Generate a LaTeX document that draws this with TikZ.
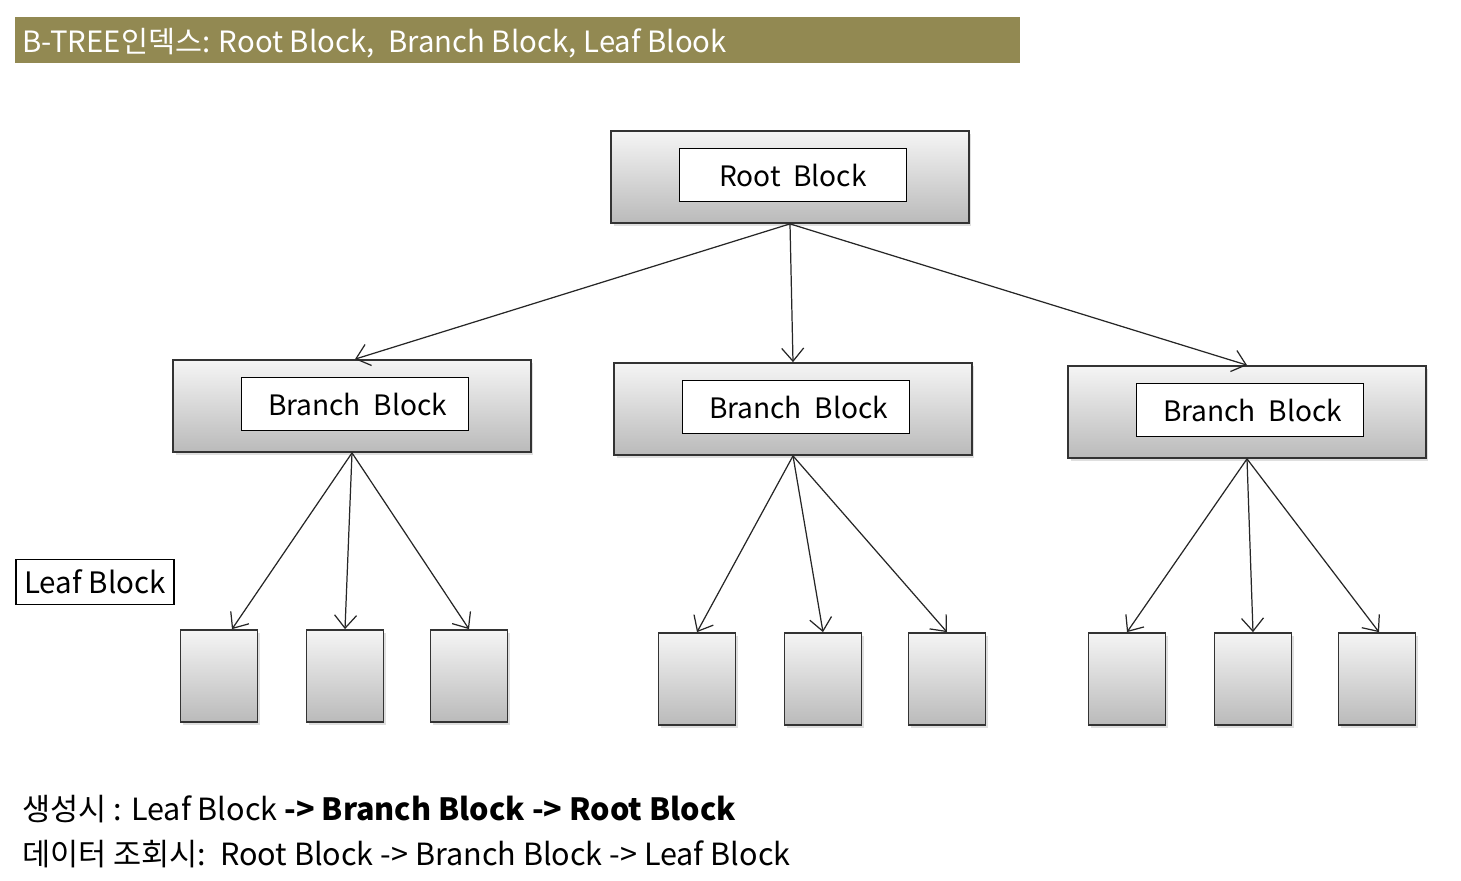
\documentclass[tikz,border=0pt]{standalone}
\usepackage{fontspec}
\setmainfont{Noto Sans CJK KR}
\usetikzlibrary{
  arrows.meta,
  shadows
}
\definecolor{titlebar}{RGB}{146,137,82}

\begin{document}
\begin{tikzpicture}[
  x=0.02cm,
  y=-0.02cm,
  block/.style={
    draw=black!80,
    line width=1pt,
    rectangle,
    top color=black!4,
    bottom color=black!27,
    minimum width=7.16cm,
    minimum height=1.84cm,
    inner sep=0pt,
    drop shadow={shadow xshift=0.05cm,shadow yshift=-0.06cm,opacity=0.25},
  },
  blocktext/.style={
    draw,
    fill=white,
    line width=0.8pt,
    minimum width=4.54cm,
    minimum height=1.06cm,
    inner sep=0pt,
    font=\fontsize{16}{18}\selectfont,
  },
  leaf/.style={
    block,
    minimum width=1.54cm,
    minimum height=1.84cm,
  },
  tag/.style={
    draw,
    line width=0.8pt,
    minimum width=3.16cm,
    minimum height=0.9cm,
    inner sep=0pt,
    font=\fontsize{16.8}{18}\selectfont,
  },
  note/.style={
    anchor=base west,
    inner sep=0pt,
    font=\fontsize{17.4}{20}\selectfont,
  },
  link/.style={
    ->,
    line width=0.7pt,
    black!85,
  },
  >={Straight Barb[length=0.26cm,width=0.44cm]}
]
\useasboundingbox (0,0) rectangle (1461,880);

% Title bar
\fill[titlebar] (15,17) rectangle (1020,63);
\node[anchor=base west, text=white, inner sep=0pt, font=\fontsize{16.7}{20}\selectfont]
  (title) at (22,52) {B-TREE인덱스: Root Block,\ \ Branch Block, Leaf Blook};

% Root
\node[block] (root) at (790,177) {};
\node[blocktext] (roottext) at (793,175) {Root\ \ Block};

% Branches
\node[block] (br1) at (352,406) {};
\node[blocktext] (br1text) at (355,404) {\hspace{0.1cm}Branch\ \ Block};
\node[block] (br2) at (793,409) {};
\node[blocktext] (br2text) at (796,407) {\hspace{0.1cm}Branch\ \ Block};
\node[block] (br3) at (1247,412) {};
\node[blocktext] (br3text) at (1250,410) {\hspace{0.1cm}Branch\ \ Block};

% Leaves
\node[leaf] (l11) at (219,676) {};
\node[leaf] (l12) at (345,676) {};
\node[leaf] (l13) at (469,676) {};
\node[leaf] (l21) at (697,679) {};
\node[leaf] (l22) at (823,679) {};
\node[leaf] (l23) at (947,679) {};
\node[leaf] (l31) at (1127,679) {};
\node[leaf] (l32) at (1253,679) {};
\node[leaf] (l33) at (1377,679) {};

\node[tag] (leaftag) at (95,582) {Leaf Block};

% Arrows
\draw[link] (root.south) -- ([xshift=0.06cm]br1.north);
\draw[link] (root.south) -- (br2.north);
\draw[link] (root.south) -- (br3.north);

\draw[link] (br1.south) -- ([xshift=0.26cm]l11.north);
\draw[link] (br1.south) -- (l12.north);
\draw[link] (br1.south) -- (l13.north);
\draw[link] (br2.south) -- (l21.north);
\draw[link] (br2.south) -- (l22.north);
\draw[link] (br2.south) -- (l23.north);
\draw[link] (br3.south) -- (l31.north);
\draw[link] (br3.south) -- (l32.north);
\draw[link] (br3.south) -- ([xshift=0.04cm]l33.north);

% Notes
\node[note] (make) at (22,820) {생성시 : Leaf Block \textbf{-> Branch Block -> Root Block}};
\node[note] (query) at (22,865) {데이터 조회시:\ \ Root Block -> Branch Block -> Leaf Block};

\end{tikzpicture}
\end{document}
